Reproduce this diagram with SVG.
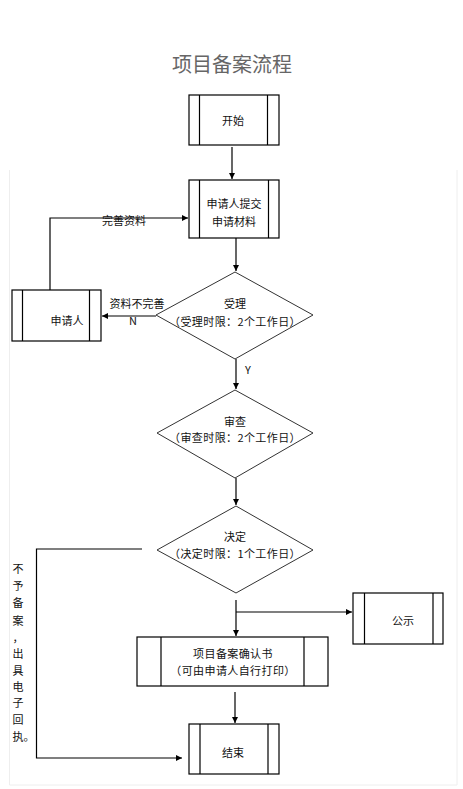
<svg xmlns="http://www.w3.org/2000/svg" width="463" height="789" viewBox="0 0 463 789">
<style>
text{font-family:"Noto Sans CJK SC","Liberation Sans",sans-serif;font-size:11px;fill:#111;text-anchor:middle;dominant-baseline:central}
.title{font-size:20px;fill:#666}
.box{fill:#fff;stroke:#000;stroke-width:1.2}
.bar{stroke:#000;stroke-width:1.2}
.dia{fill:#fff;stroke:#333;stroke-width:1}
.con{fill:none;stroke:#000;stroke-width:1.2}
.v{text-anchor:start}
.sp{letter-spacing:0.4px}
</style>
<defs>
<marker id="ah" markerUnits="userSpaceOnUse" markerWidth="7" markerHeight="7" refX="6" refY="3" orient="auto">
<path d="M0,0 L6,3 L0,6 z" fill="#000"/>
</marker>
</defs>
<path d="M9.5,170 V785 H457 V170" fill="none" stroke="#eee" stroke-width="1"/>
<text class="title" x="232" y="63">项目备案流程</text>

<g id="connectors">
<path class="con" d="M232,147 V179" marker-end="url(#ah)"/>
<path class="con" d="M236,238 V271" marker-end="url(#ah)"/>
<path class="con" d="M236,359 V389" marker-end="url(#ah)"/>
<path class="con" d="M236,478 V505" marker-end="url(#ah)"/>
<path class="con" d="M236,600 V636" marker-end="url(#ah)"/>
<path class="con" d="M236,612 H352" marker-end="url(#ah)"/>
<path class="con" d="M235,692 V723" marker-end="url(#ah)"/>
<path class="con" d="M142,549 H36.5 V758 H182" marker-end="url(#ah)"/>
<path class="con" d="M156,316 H102" marker-end="url(#ah)"/>
<path class="con" d="M50,290 V218 H188" marker-end="url(#ah)"/>
<text x="124" y="219.5">完善资料</text>
<text x="137" y="303">资料不完善</text>
<text x="133" y="320">N</text>
<text x="248" y="369">Y</text>
<g id="reject-label">
<text x="18" y="568">不</text>
<text x="18" y="585">予</text>
<text x="18" y="602">备</text>
<text x="18" y="620">案</text>
<text x="18" y="637">，</text>
<text x="18" y="653">出</text>
<text x="18" y="670">具</text>
<text x="18" y="686">电</text>
<text x="18" y="702">子</text>
<text x="18" y="719">回</text>
<text class="v" x="12.5" y="736">执。</text>
</g>
</g>

<g id="start">
<rect class="box" x="189" y="95" width="90" height="50"/>
<path class="bar" d="M199.5,95 V145 M267.5,95 V145"/>
<text x="233" y="120">开始</text>
</g>

<g id="submit">
<rect class="box" x="189" y="180" width="90" height="58"/>
<path class="bar" d="M199.5,180 V238 M268.5,180 V238"/>
<text x="234" y="203">申请人提交</text>
<text x="234" y="221">申请材料</text>
</g>

<g id="applicant">
<rect class="box" x="12" y="290" width="89" height="51"/>
<path class="bar" d="M22.5,290 V341 M89.5,290 V341"/>
<text x="67" y="320">申请人</text>
</g>

<g id="accept">
<path class="dia" d="M235,272 L313,315 L235,359 L156,315 Z"/>
<text x="235" y="303">受理</text>
<text class="sp" x="235" y="321">（受理时限：2个工作日）</text>
</g>

<g id="review">
<path class="dia" d="M235,390 L313,433 L235,478 L157,433 Z"/>
<text x="235" y="421">审查</text>
<text class="sp" x="235" y="437">（审查时限：2个工作日）</text>
</g>

<g id="decide">
<path class="dia" d="M236,506 L313,550 L236,593 L157,550 Z"/>
<text x="235" y="536">决定</text>
<text class="sp" x="235" y="553">（决定时限：1个工作日）</text>
</g>

<g id="publicity">
<rect class="box" x="353" y="593" width="90" height="51"/>
<path class="bar" d="M364.5,593 V644 M433,593 V644"/>
<text x="403" y="620">公示</text>
</g>

<g id="confirm">
<rect class="box" x="137" y="637" width="191" height="49"/>
<path class="bar" d="M161,637 V686 M304,637 V686"/>
<text class="sp" x="233" y="653">项目备案确认书</text>
<text class="sp" x="233" y="670">（可由申请人自行打印）</text>
</g>

<g id="end">
<rect class="box" x="189" y="724" width="90" height="50"/>
<path class="bar" d="M200,724 V774 M268,724 V774"/>
<text x="233" y="752">结束</text>
</g>
</svg>
